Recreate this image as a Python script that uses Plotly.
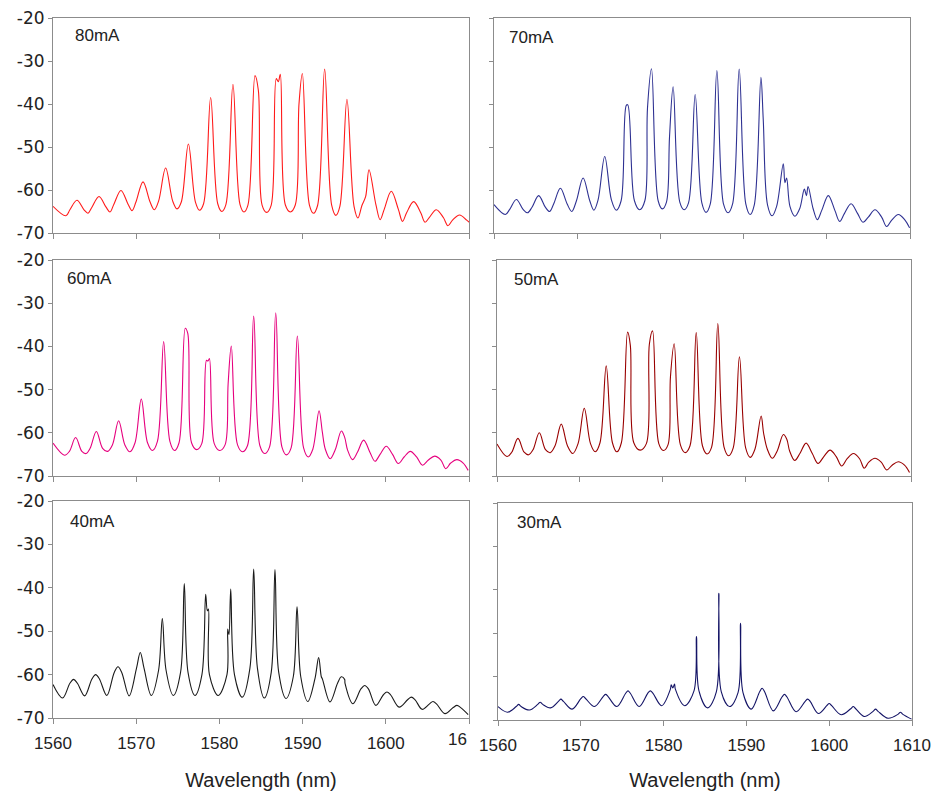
import plotly.graph_objects as go

# ---------------- data (wavelength nm, power dB) ----------------
labels = ["80mA", "70mA", "60mA", "50mA", "40mA", "30mA"]
colors = ["#ff1a1a", "#2e3192", "#e6007e", "#990000", "#1a1a1a", "#141466"]
x_ticks = [1560, 1570, 1580, 1590, 1600, 1610]
y_ticks = [-20, -30, -40, -50, -60, -70]

# 80 mA
start_80 = -63.8
centers_80 = [1562.88, 1565.53, 1568.17, 1570.82, 1573.54, 1576.27, 1578.95, 1581.63, 1584.28,
              1587.08, 1589.97, 1592.65, 1595.33, 1597.98, 1600.66, 1603.35, 1606.07, 1608.87]
peaks_80 = [-62.4, -61.5, -60.1, -58.1, -54.9, -49.3, -38.5, -35.4, -33.4,
            -34.8, -32.9, -31.9, -38.9, -55.3, -60.3, -62.7, -64.6, -65.8]
feet_80 = [-64.6, -64.0, -63.3, -62.8, -62.6, -62.8, -63.2, -63.4, -63.5,
           -63.5, -63.5, -63.6, -63.8, -63.6, -64.5, -65.3, -66.4, -67.0]
troughs_80 = [-66.0, -65.4, -65.1, -64.8, -64.6, -64.4, -64.7, -65.0, -65.1, -65.2,
              -65.1, -65.4, -65.9, -66.5, -66.9, -67.3, -67.5, -68.3, -67.8]
extras_80 = [(1584.68, -36.8), (1586.84, -34.1), (1587.32, -33.1), (1589.57, -39.9), (1597.58, -61.5)]

# 70 mA
start_70 = -63.4
centers_70 = [1562.69, 1565.37, 1567.98, 1570.71, 1573.31, 1576.08, 1578.93, 1581.53, 1584.18,
              1586.79, 1589.47, 1592.08, 1594.77, 1597.55, 1600.18, 1602.91, 1605.79, 1608.60]
peaks_70 = [-62.2, -61.3, -59.6, -57.2, -52.2, -40.2, -31.8, -36.0, -37.8,
            -32.2, -31.9, -33.8, -53.9, -61.3, -61.3, -63.2, -64.6, -65.7]
feet_70 = [-64.5, -64.0, -63.2, -62.5, -62.3, -62.5, -62.5, -62.8, -63.0,
           -63.3, -63.3, -63.5, -63.8, -64.3, -64.8, -65.5, -66.3, -67.0]
troughs_70 = [-65.7, -65.3, -65.0, -65.0, -64.7, -64.7, -64.6, -64.4, -64.6, -65.2,
              -65.3, -65.7, -66.0, -66.1, -66.9, -67.3, -67.5, -68.5, -68.8]
extras_70 = [(1575.90, -40.3), (1578.45, -40.9), (1581.10, -47.5), (1592.36, -43.6),
             (1594.97, -58.3), (1595.17, -57.2), (1597.30, -59.8), (1597.75, -59.2)]

# 60 mA
start_60 = -62.4
centers_60 = [1562.72, 1565.21, 1567.89, 1570.61, 1573.30, 1575.90, 1578.63, 1581.43, 1584.12,
              1586.77, 1589.37, 1591.98, 1594.66, 1597.34, 1600.06, 1602.95, 1605.87, 1608.55]
peaks_60 = [-61.1, -59.7, -57.2, -52.2, -38.9, -35.8, -43.4, -39.9, -33.0,
            -32.2, -37.6, -54.9, -59.6, -61.7, -63.1, -64.3, -65.4, -66.2]
feet_60 = [-64.3, -63.6, -62.8, -62.3, -62.0, -62.3, -62.5, -62.8, -63.0,
           -63.3, -63.5, -63.8, -64.0, -64.5, -65.0, -65.6, -66.3, -67.0]
troughs_60 = [-65.2, -64.8, -64.3, -64.4, -64.1, -64.1, -63.9, -64.1, -64.4, -64.8,
              -65.1, -65.6, -66.0, -66.2, -66.6, -67.1, -67.5, -68.3, -68.7]
extras_60 = [(1576.20, -37.0), (1578.45, -43.2), (1578.80, -42.8), (1581.05, -48.6),
             (1592.37, -59.8), (1595.05, -61.0)]

# 50 mA
start_50 = -62.6
centers_50 = [1562.53, 1565.11, 1567.76, 1570.54, 1573.19, 1575.77, 1578.79, 1581.40, 1584.06,
              1586.67, 1589.28, 1591.90, 1594.59, 1597.33, 1600.22, 1603.04, 1605.65, 1608.47]
peaks_50 = [-61.3, -60.0, -58.0, -54.3, -44.5, -36.7, -36.4, -39.4, -36.8,
            -34.7, -42.4, -56.1, -60.4, -62.4, -64.0, -64.8, -65.9, -66.7]
feet_50 = [-64.5, -63.9, -63.0, -62.5, -62.3, -62.3, -62.5, -62.8, -63.0,
           -63.3, -63.5, -63.8, -64.2, -64.8, -65.5, -66.0, -66.8, -67.5]
troughs_50 = [-65.5, -65.1, -64.6, -64.8, -64.4, -64.4, -64.0, -64.1, -64.6, -64.9,
              -65.3, -65.7, -65.9, -66.4, -67.1, -67.7, -68.2, -68.6, -69.2]
extras_50 = [(1576.10, -39.7), (1578.40, -39.5), (1580.95, -47.0), (1592.20, -60.1), (1595.00, -61.5)]

# 40 mA
start_40 = -62.3
centers_40 = [1562.48, 1565.13, 1567.81, 1570.49, 1573.14, 1575.78, 1578.35, 1581.36, 1584.12,
              1586.68, 1589.33, 1591.93, 1594.65, 1597.46, 1600.14, 1603.07, 1605.67, 1608.55]
peaks_40 = [-61.1, -60.0, -58.2, -54.9, -47.1, -39.0, -41.5, -40.3, -35.7,
            -35.8, -44.4, -56.1, -60.5, -62.5, -64.0, -65.2, -66.2, -67.1]
feet_40 = [-62.0, -61.0, -59.5, -58.5, -59.0, -59.5, -60.0, -60.0, -58.5,
           -59.5, -60.5, -61.0, -62.0, -63.3, -64.7, -65.8, -66.8, -67.6]
troughs_40 = [-65.4, -64.9, -64.8, -64.9, -64.8, -64.8, -64.8, -64.8, -65.2, -65.4,
              -65.5, -66.2, -66.3, -66.7, -67.1, -67.5, -68.0, -69.0, -69.2]
extras_40 = [(1578.55, -45.3), (1578.68, -44.9), (1581.00, -49.5), (1581.15, -50.8),
             (1592.25, -60.5), (1595.05, -61.1)]

# 30 mA
start_30 = -66.9
centers_30 = [1562.50, 1565.10, 1567.60, 1570.30, 1573.00, 1575.70, 1578.40, 1581.12, 1583.97,
              1586.67, 1589.29, 1591.90, 1594.60, 1597.40, 1600.00, 1602.90, 1605.60, 1608.60]
peaks_30 = [-66.4, -65.9, -65.2, -64.6, -64.1, -63.3, -63.3, -62.6, -50.8,
            -40.8, -47.7, -62.7, -64.1, -65.2, -66.2, -66.9, -67.5, -68.2]
feet_30 = [-66.9, -66.4, -65.7, -65.1, -64.6, -63.9, -63.8, -62.9, -63.3,
           -63.5, -63.7, -63.5, -64.7, -65.7, -66.7, -67.4, -68.0, -68.7]
troughs_30 = [-68.2, -67.7, -67.2, -67.5, -66.9, -66.9, -66.9, -66.7, -66.7, -67.2,
              -66.9, -67.5, -67.9, -68.1, -68.5, -68.8, -69.2, -69.6, -69.8]
extras_30 = [(1580.92, -61.9), (1581.32, -61.7)]

# half-width (nm) of each lasing line's base, per panel (line shape)
foot_halfwidth = [0.85, 0.80, 0.75, 0.75, 0.45, 0.30]

panel_data = [
    (start_80, centers_80, peaks_80, feet_80, troughs_80, extras_80),
    (start_70, centers_70, peaks_70, feet_70, troughs_70, extras_70),
    (start_60, centers_60, peaks_60, feet_60, troughs_60, extras_60),
    (start_50, centers_50, peaks_50, feet_50, troughs_50, extras_50),
    (start_40, centers_40, peaks_40, feet_40, troughs_40, extras_40),
    (start_30, centers_30, peaks_30, feet_30, troughs_30, extras_30),
]


def build_vertices(start, centers, peaks, feet, troughs, extras, d):
    pts = [(x_ticks[0], start), (centers[0] - 1.33, troughs[0])]
    n = len(centers)
    for k in range(n):
        c = centers[k]
        pts.append((c - d, feet[k]))
        pts.append((c, peaks[k]))
        pts.append((c + d, feet[k]))
        nxt = (c + centers[k + 1]) / 2 if k < n - 1 else c + 1.35
        pts.append((nxt, troughs[k + 1]))
    pts += list(extras)
    pts.sort()
    return [p[0] for p in pts], [p[1] for p in pts]


# ---------------- layout (pixel boxes of each panel in the 937x791 page) ----------------
W, H = 937, 791
boxes = [  # (left, right, top, bottom) in px
    (53, 469, 18, 233), (494, 910, 18, 233),
    (53, 469, 260, 476), (497, 911, 260, 476),
    (53, 469, 501, 718), (498, 912, 503, 720),
]
label_pos = [(20, 17.5), (13, 20), (12, 18), (15, 19), (15, 20.5), (17, 19.5)]

FONT = "Liberation Sans, Arial, Helvetica, sans-serif"
YFONT = "DejaVu Sans, Liberation Sans, sans-serif"
AXC = "#8c8c8c"
TXT = "#222222"
TICK_STANDOFF = 5

fig = go.Figure()
layout = dict(
    width=W, height=H, autosize=False,
    margin=dict(l=0, r=0, t=0, b=0, autoexpand=False),
    paper_bgcolor="white", plot_bgcolor="white",
    showlegend=False,
    font=dict(family=FONT, size=16, color=TXT),
    annotations=[],
)

for i, (lab, col, data, d) in enumerate(zip(labels, colors, panel_data, foot_halfwidth)):
    xs, ys = build_vertices(*data, d)
    ax = "" if i == 0 else str(i + 1)
    fig.add_trace(go.Scatter(x=xs, y=ys, mode="lines", name=lab,
                             line=dict(color=col, width=1.1, shape="spline", smoothing=1.0),
                             xaxis="x" + ax, yaxis="y" + ax, hoverinfo="skip"))
    l, r, t, b = boxes[i]
    left_col = (i % 2 == 0)
    bottom_row = (i >= 4)
    xticktext = [str(v) for v in x_ticks]
    if left_col:
        # last label of the left column is partly hidden by the right panel: drawn below
        xticktext[-1] = ""
    xa = dict(
        domain=[l / W, r / W], range=[1560, 1610], anchor="y" + ax,
        tickmode="array", tickvals=x_ticks, ticktext=xticktext,
        showticklabels=bottom_row, ticks="outside", ticklen=5, tickwidth=1, tickcolor=AXC,
        ticklabelstandoff=TICK_STANDOFF,
        showline=True, linecolor=AXC, linewidth=1, mirror=True,
        showgrid=False, zeroline=False, automargin=False,
        tickfont=dict(family=FONT, size=17, color=TXT),
    )
    if bottom_row:
        xa["title"] = dict(text="Wavelength (nm)", font=dict(family=FONT, size=20, color=TXT),
                           standoff=23)
    ya = dict(
        domain=[1 - b / H, 1 - t / H], range=[-70, -20], anchor="x" + ax,
        tickmode="array", tickvals=y_ticks, ticktext=[str(v) for v in y_ticks],
        showticklabels=left_col, ticks="outside", ticklen=4, tickwidth=1, tickcolor=AXC,
        showline=True, linecolor=AXC, linewidth=1, mirror=True,
        showgrid=False, zeroline=False, automargin=False,
        tickfont=dict(family=YFONT, size=17, color=TXT),
    )
    layout["xaxis" + ax] = xa
    layout["yaxis" + ax] = ya
    dx, dy = label_pos[i]
    layout["annotations"].append(dict(
        text=lab, xref="x" + ax + " domain", yref="y" + ax + " domain",
        x=dx / (r - l), y=1 - dy / (b - t), xanchor="left", yanchor="middle",
        showarrow=False, font=dict(family=FONT, size=17, color=TXT),
    ))
    if left_col and bottom_row:
        # visible part ("16") of the clipped 1610 tick label, right-aligned at the tick
        layout["annotations"].append(dict(
            text=str(x_ticks[-1])[:2], xref="x" + ax, yref="y" + ax + " domain",
            x=x_ticks[-1], y=0, xanchor="right", yanchor="top", yshift=-(5 + TICK_STANDOFF),
            showarrow=False, font=dict(family=FONT, size=17, color=TXT),
        ))

fig.update_layout(**layout)
fig.write_html("out.html")
